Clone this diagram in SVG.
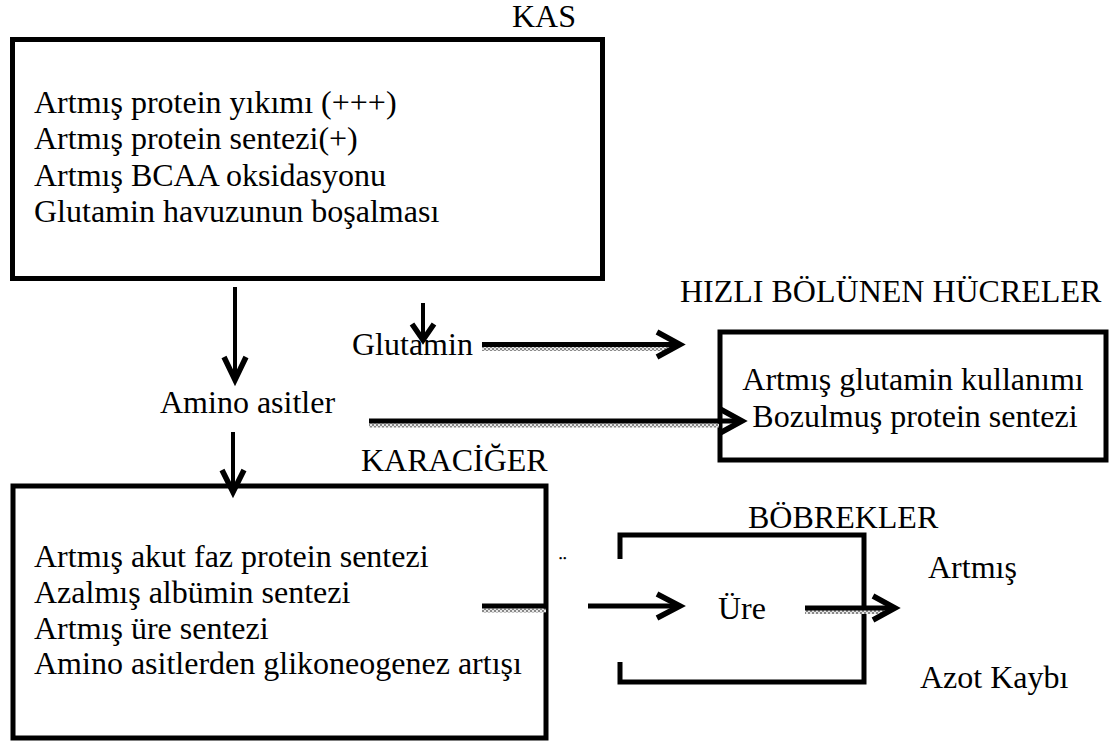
<svg xmlns="http://www.w3.org/2000/svg" width="1117" height="753" viewBox="0 0 1117 753" font-family="'Liberation Serif', 'Times New Roman', serif">
<defs>
<style>
text{font-family:'Liberation Serif','Times New Roman',serif;font-size:32px;fill:#000}
.box{fill:none;stroke:#000;stroke-width:5}
.ln{fill:none;stroke:#000;stroke-width:5}
.dn{fill:none;stroke:#000;stroke-width:4}
.hd{fill:none;stroke:#000;stroke-width:5.5;stroke-linejoin:miter}
.sh{fill:url(#hatch)}
</style>
<pattern id="hatch" width="4" height="4" patternUnits="userSpaceOnUse">
<rect width="4" height="4" fill="#e6e6e6"/>
<rect width="2" height="2" fill="#888"/>
<rect x="2" y="2" width="2" height="2" fill="#888"/>
</pattern>
<clipPath id="clipU"><rect x="550" y="548" width="30" height="12"/></clipPath>
</defs>

<g id="kas">
<text x="512" y="27">KAS</text>
<rect class="box" x="12.5" y="39.5" width="590" height="239"/>
<text x="34" y="113">Artmış protein yıkımı (+++)</text>
<text x="34" y="149">Artmış protein sentezi(+)</text>
<text x="34" y="186">Artmış BCAA oksidasyonu</text>
<text x="34" y="222">Glutamin havuzunun boşalması</text>
</g>

<g id="glutamin">
<text x="352" y="355">Glutamin</text>
</g>

<g id="amino-asitler">
<text x="160" y="413">Amino asitler</text>
</g>

<g id="hizli-bolunen-hucreler">
<text x="680" y="302">HIZLI BÖLÜNEN HÜCRELER</text>
<rect class="box" x="720" y="332" width="386" height="128"/>
<text x="913" y="390" text-anchor="middle">Artmış glutamin kullanımı</text>
<text x="915" y="427" text-anchor="middle">Bozulmuş protein sentezi</text>
</g>

<g id="karaciger">
<text x="361" y="471">KARACİĞER</text>
<rect class="box" x="13" y="486" width="533" height="252"/>
<text x="34" y="567">Artmış akut faz protein sentezi</text>
<text x="34" y="603">Azalmış albümin sentezi</text>
<text x="34" y="639">Artmış üre sentezi</text>
<text x="34" y="674">Amino asitlerden glikoneogenez artışı</text>
<text x="554" y="576" style="font-size:24px" clip-path="url(#clipU)">Ü</text>
</g>

<g id="bobrekler">
<text x="748" y="528">BÖBREKLER</text>
<path class="box" d="M620 559 L620 535 L864 535 L864 682 L620 682 L620 662"/>
<text x="718" y="619">Üre</text>
<text x="928" y="578">Artmış</text>
<text x="920" y="688">Azot Kaybı</text>
</g>

<g id="connectors">
<path class="dn" d="M235 287 L235 378"/>
<path class="hd" d="M224 357 L235 380 L246 357"/>
<path class="dn" d="M423 303 L423 338"/>
<path class="hd" d="M412 324 L423 340 L434 324"/>
<path class="dn" d="M233 432 L233 490"/>
<path class="hd" d="M222 470 L233 492 L244 470"/>
<rect class="sh" x="482" y="347" width="190" height="4"/>
<path class="ln" d="M482 344.5 L677 344.5"/>
<path class="hd" d="M657 332 L680 344.5 L657 357"/>
<rect class="sh" x="369" y="423.5" width="350" height="4"/>
<path class="ln" d="M369 421 L738 421"/>
<path class="hd" d="M720 409 L742 421 L720 433"/>
<rect class="sh" x="482" y="608.5" width="64" height="4"/>
<path class="ln" d="M482 606 L547 606"/>
<path class="ln" d="M588 606 L677 606"/>
<path class="hd" d="M657 594 L680 606 L657 618"/>
<rect class="sh" x="805" y="610" width="85" height="4"/>
<path class="ln" d="M805 608 L892 608"/>
<path class="hd" d="M873 596 L895 608 L873 620"/>
</g>
</svg>
